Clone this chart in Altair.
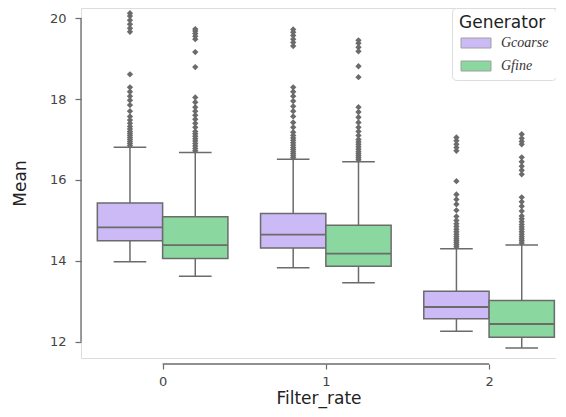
import altair as alt
import pandas as pd

# ---------------- data ----------------
filter_rates = [0, 1, 2]
generators = ["coarse", "fine"]
colors = ["#cbbaf5", "#8ad79f"]

# order of groups: (0,coarse) (0,fine) (1,coarse) (1,fine) (2,coarse) (2,fine)
q1 = [14.50, 14.06, 14.32, 13.87, 12.57, 12.11]
median = [14.83, 14.39, 14.65, 14.18, 12.86, 12.44]
q3 = [15.43, 15.09, 15.17, 14.88, 13.25, 13.02]
whisker_low = [13.98, 13.62, 13.83, 13.46, 12.26, 11.85]
whisker_high = [16.81, 16.68, 16.51, 16.45, 14.30, 14.39]

outliers_0_coarse = [16.85, 16.90, 16.95, 17.00, 17.05, 17.10, 17.15, 17.20, 17.26, 17.32,
                     17.40, 17.48, 17.57, 17.70, 17.85, 17.97, 18.07, 18.18, 18.29, 18.61,
                     19.66, 19.75, 19.85, 19.95, 20.05, 20.12]
outliers_0_fine = [16.72, 16.78, 16.84, 16.90, 16.96, 17.02, 17.08, 17.14, 17.20, 17.30,
                   17.40, 17.50, 17.60, 17.70, 17.80, 17.92, 18.04, 18.79, 19.16, 19.48,
                   19.55, 19.62, 19.68, 19.73]
outliers_1_coarse = [16.55, 16.60, 16.65, 16.70, 16.75, 16.80, 16.86, 16.92, 16.98, 17.04,
                     17.10, 17.18, 17.30, 17.42, 17.57, 17.70, 17.82, 17.95, 18.07, 18.18,
                     18.29, 19.31, 19.40, 19.48, 19.57, 19.65, 19.72]
outliers_1_fine = [16.50, 16.55, 16.60, 16.65, 16.70, 16.76, 16.82, 16.88, 16.94, 17.00,
                   17.10, 17.20, 17.30, 17.42, 17.55, 17.68, 17.80, 18.54, 18.81, 19.18,
                   19.28, 19.38, 19.45]
outliers_2_coarse = [14.35, 14.40, 14.45, 14.50, 14.55, 14.60, 14.66, 14.72, 14.78, 14.85,
                     14.92, 15.00, 15.10, 15.25, 15.40, 15.52, 15.64, 15.97, 16.72, 16.80,
                     16.88, 16.97, 17.05]
outliers_2_fine = [14.44, 14.50, 14.55, 14.60, 14.66, 14.72, 14.78, 14.84, 14.90, 14.97,
                   15.04, 15.11, 15.23, 15.35, 15.46, 15.57, 16.14, 16.24, 16.34, 16.45,
                   16.56, 16.88, 16.95, 17.03, 17.13]
outliers = [outliers_0_coarse, outliers_0_fine, outliers_1_coarse,
            outliers_1_fine, outliers_2_coarse, outliers_2_fine]

y_ticks = [12, 14, 16, 18, 20]

# ---------------- build tables ----------------
HUE_OFF = {"coarse": -0.2, "fine": 0.2}
HALF_BOX = 0.2
HALF_CAP = 0.1

rows, orows = [], []
i = 0
for fr in filter_rates:
    for g in generators:
        c = fr + HUE_OFF[g]
        rows.append(dict(fr=fr, gen=g, center=c, left=c - HALF_BOX, right=c + HALF_BOX,
                         cap_l=c - HALF_CAP, cap_r=c + HALF_CAP,
                         q1=q1[i], med=median[i], q3=q3[i],
                         lo=whisker_low[i], hi=whisker_high[i]))
        for v in outliers[i]:
            orows.append(dict(fr=fr, gen=g, center=c, value=v))
        i += 1
df = pd.DataFrame(rows)
dfo = pd.DataFrame(orows)

W, H = 475, 350
LINE = "#6b6b6b"
FONT = "DejaVu Sans"

xscale = alt.Scale(domain=[-0.5, 2.41], nice=False, zero=False)
yscale = alt.Scale(domain=[11.6, 20.25], nice=False, zero=False)
xaxis = alt.Axis(values=filter_rates, format="d", domain=False, offset=6, tickSize=5,
                 tickColor=LINE, tickWidth=1.2, labelFontSize=13, labelColor="#444",
                 labelPadding=6, titleFontSize=17, titleColor="#222", titleFontWeight="normal",
                 titlePadding=2, grid=False, labelFont=FONT, titleFont=FONT)
yaxis = alt.Axis(values=y_ticks, format="d", domain=False, tickSize=6, tickColor=LINE,
                 tickWidth=1.2, labelFontSize=13, labelColor="#444", labelPadding=9,
                 titleFontSize=17, titleColor="#222", titleFontWeight="normal",
                 titlePadding=20, grid=False, labelFont=FONT, titleFont=FONT)


def X(field):
    return alt.X(f"{field}:Q", scale=xscale, axis=xaxis, title="Filter_rate")


def Y(field):
    return alt.Y(f"{field}:Q", scale=yscale, axis=yaxis, title="Mean")


base = alt.Chart(df)

whisk_up = base.mark_rule(color=LINE, strokeWidth=1.5).encode(
    x=X("center"), y=Y("q3"), y2="hi")
whisk_dn = base.mark_rule(color=LINE, strokeWidth=1.5).encode(
    x=X("center"), y=Y("lo"), y2="q1")
cap_hi = base.mark_rule(color=LINE, strokeWidth=1.5).encode(
    x=X("cap_l"), x2="cap_r", y=Y("hi"))
cap_lo = base.mark_rule(color=LINE, strokeWidth=1.5).encode(
    x=X("cap_l"), x2="cap_r", y=Y("lo"))
boxes = base.mark_rect(stroke=LINE, strokeWidth=1.5).encode(
    x=X("left"), x2="right", y=Y("q1"), y2="q3",
    color=alt.Color("gen:N", scale=alt.Scale(domain=generators, range=colors),
                    legend=alt.Legend(
                        title="Generator", orient="top-right", offset=0,
                        labelExpr="datum.label == 'coarse' ? 'Gcoarse' : 'Gfine'",
                        labelFont="Liberation Serif", labelFontStyle="italic",
                        labelFontSize=14, labelColor="#333",
                        titleFont=FONT, titleFontSize=17, titleFontWeight="normal",
                        titleColor="#222", titlePadding=4,
                        symbolType="M-1,-1L5,-1L5,1L-1,1Z", symbolSize=100,
                        symbolStrokeColor="#a0a0a0", symbolStrokeWidth=1,
                        symbolOpacity=1, labelOffset=28, rowPadding=9,
                        padding=7, strokeColor="#dddddd", cornerRadius=4,
                        fillColor="white")))
medians = base.mark_rule(color=LINE, strokeWidth=1.8).encode(
    x=X("left"), x2="right", y=Y("med"))
fliers = alt.Chart(dfo).mark_point(shape="diamond", filled=True, color=LINE,
                                   size=40, opacity=1).encode(
    x=X("center"), y=Y("value"))

# trimmed spines (seaborn despine(trim=True))
yspine = alt.Chart(pd.DataFrame({"lo": [min(y_ticks)], "hi": [max(y_ticks)]})).mark_rule(
    color=LINE, strokeWidth=1.3).encode(x=alt.value(0), y=Y("lo"), y2="hi")
xspine = alt.Chart(pd.DataFrame({"lo": [min(filter_rates)], "hi": [max(filter_rates)]})).mark_rule(
    color=LINE, strokeWidth=1.3).encode(x=X("lo"), x2="hi", y=alt.value(H + 6))

chart = alt.layer(whisk_up, whisk_dn, cap_hi, cap_lo, boxes, medians, fliers,
                  yspine, xspine).properties(
    width=W, height=H,
    autosize=alt.AutoSizeParams(type="none"),
    padding={"left": 73, "top": 0, "right": 0, "bottom": 51},
).configure_view(stroke=None).configure(font=FONT)

chart.save("out.html", embed_options={"renderer": "svg", "actions": False})
